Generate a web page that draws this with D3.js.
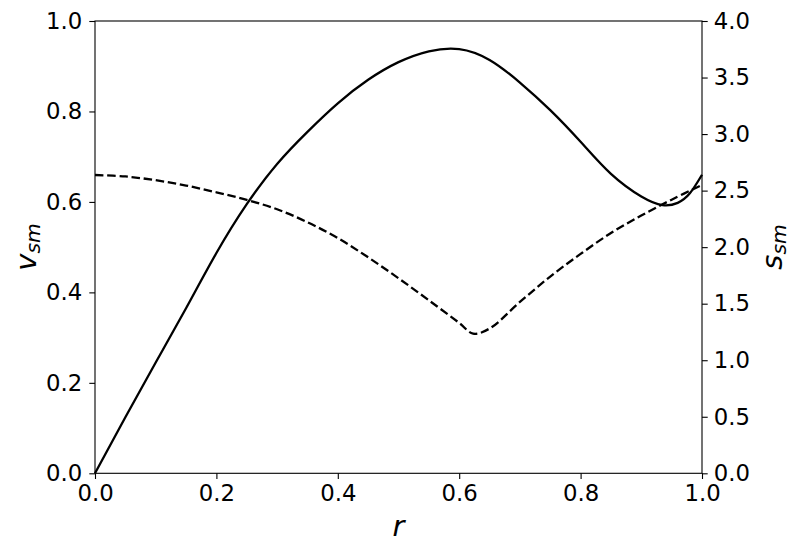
<!DOCTYPE html>
<html>
<head>
<meta charset="utf-8">
<script src="https://cdn.jsdelivr.net/npm/d3@7"></script>
<style>
  body { margin: 0; background: #fff; }
  svg { display: block; }
  text { font-family: "DejaVu Sans", sans-serif; fill: #000; }
</style>
</head>
<body>
<svg width="797" height="554"></svg>
<script>
// values
var rVals = [0, 0.05, 0.1, 0.15, 0.2, 0.25, 0.3, 0.35, 0.4, 0.45, 0.5, 0.55, 0.6, 0.65, 0.7, 0.75, 0.8, 0.85, 0.9, 0.935, 0.96, 0.98, 1.0];
var vSm = [0, 0.124, 0.245, 0.365, 0.487, 0.595, 0.684, 0.755, 0.818, 0.87, 0.909, 0.933, 0.938, 0.914, 0.864, 0.803, 0.733, 0.662, 0.612, 0.593, 0.598, 0.619, 0.66];

var rDash = [0, 0.05, 0.1, 0.15, 0.2, 0.25, 0.3, 0.35, 0.4, 0.45, 0.5, 0.55, 0.6, 0.623, 0.65, 0.7, 0.75, 0.8, 0.85, 0.9, 0.95, 1.0];
var sSm = [2.638, 2.625, 2.592, 2.545, 2.485, 2.418, 2.335, 2.22, 2.08, 1.91, 1.725, 1.53, 1.33, 1.235, 1.28, 1.515, 1.74, 1.94, 2.125, 2.28, 2.42, 2.55];

var xTicks = [0, 0.2, 0.4, 0.6, 0.8, 1.0];
var leftTicks = [0, 0.2, 0.4, 0.6, 0.8, 1.0];
var rightTicks = [0, 0.5, 1.0, 1.5, 2.0, 2.5, 3.0, 3.5, 4.0];

var svg = d3.select('svg');
var plotLeft = 95, plotRight = 702, plotTop = 21, plotBottom = 473.3;

var x = d3.scaleLinear().domain([0, 1]).range([plotLeft, plotRight]);
var yL = d3.scaleLinear().domain([0, 1]).range([plotBottom, plotTop]);
var yR = d3.scaleLinear().domain([0, 4]).range([plotBottom, plotTop]);

var fs = 22.8;

// curves
var solid = d3.line()
  .x(function(d, i) { return x(rVals[i]); })
  .y(function(d) { return yL(d); })
  .curve(d3.curveNatural);

var dashed = d3.line()
  .x(function(d, i) { return x(rDash[i]); })
  .y(function(d) { return yR(d); })
  .curve(d3.curveCatmullRom.alpha(0.5));

var plot = svg.append('g');

plot.append('path')
  .attr('d', solid(vSm))
  .attr('fill', 'none')
  .attr('stroke', '#000')
  .attr('stroke-width', 2.3);

plot.append('path')
  .attr('d', dashed(sSm))
  .attr('fill', 'none')
  .attr('stroke', '#000')
  .attr('stroke-width', 2.3)
  .attr('stroke-dasharray', '8.5,3.7');

// axes
var styleAxis = function(g) {
  g.select('.domain').remove();
  g.selectAll('.tick line').attr('stroke', '#000').attr('stroke-width', 1.1);
  g.selectAll('.tick text')
    .style('font-family', '"DejaVu Sans", sans-serif')
    .style('font-size', fs + 'px')
    .attr('fill', '#000');
};

svg.append('g')
  .attr('transform', 'translate(0,' + plotBottom + ')')
  .call(d3.axisBottom(x).tickValues(xTicks).tickFormat(d3.format('.1f')).tickSize(5.7).tickPadding(6))
  .call(styleAxis);

svg.append('g')
  .attr('transform', 'translate(' + plotLeft + ',0)')
  .call(d3.axisLeft(yL).tickValues(leftTicks).tickFormat(d3.format('.1f')).tickSize(5.7).tickPadding(7))
  .call(styleAxis);

svg.append('g')
  .attr('transform', 'translate(' + plotRight + ',0)')
  .call(d3.axisRight(yR).tickValues(rightTicks).tickFormat(d3.format('.1f')).tickSize(5.7).tickPadding(6))
  .call(styleAxis);

// frame
svg.append('rect')
  .attr('x', plotLeft).attr('y', plotTop)
  .attr('width', plotRight - plotLeft).attr('height', plotBottom - plotTop)
  .attr('fill', 'none')
  .attr('stroke', '#000')
  .attr('stroke-width', 1.1);

// axis labels
var lblSize = 29;

var addLabel = function(main, sub, tx, ty, rot) {
  var t = svg.append('text')
    .attr('transform', 'translate(' + tx + ',' + ty + ') rotate(' + rot + ')')
    .attr('text-anchor', 'middle')
    .style('font-size', lblSize + 'px')
    .style('font-style', 'italic');
  t.append('tspan').text(main);
  if (sub) {
    t.append('tspan')
      .attr('dy', '0.2em')
      .style('font-size', (lblSize * 0.7) + 'px')
      .text(sub);
  }
};

addLabel('r', null, 398.5, 536, 0);
addLabel('v', 'sm', 36, 247, -90);
addLabel('s', 'sm', 782, 247, -90);
</script>
</body>
</html>
